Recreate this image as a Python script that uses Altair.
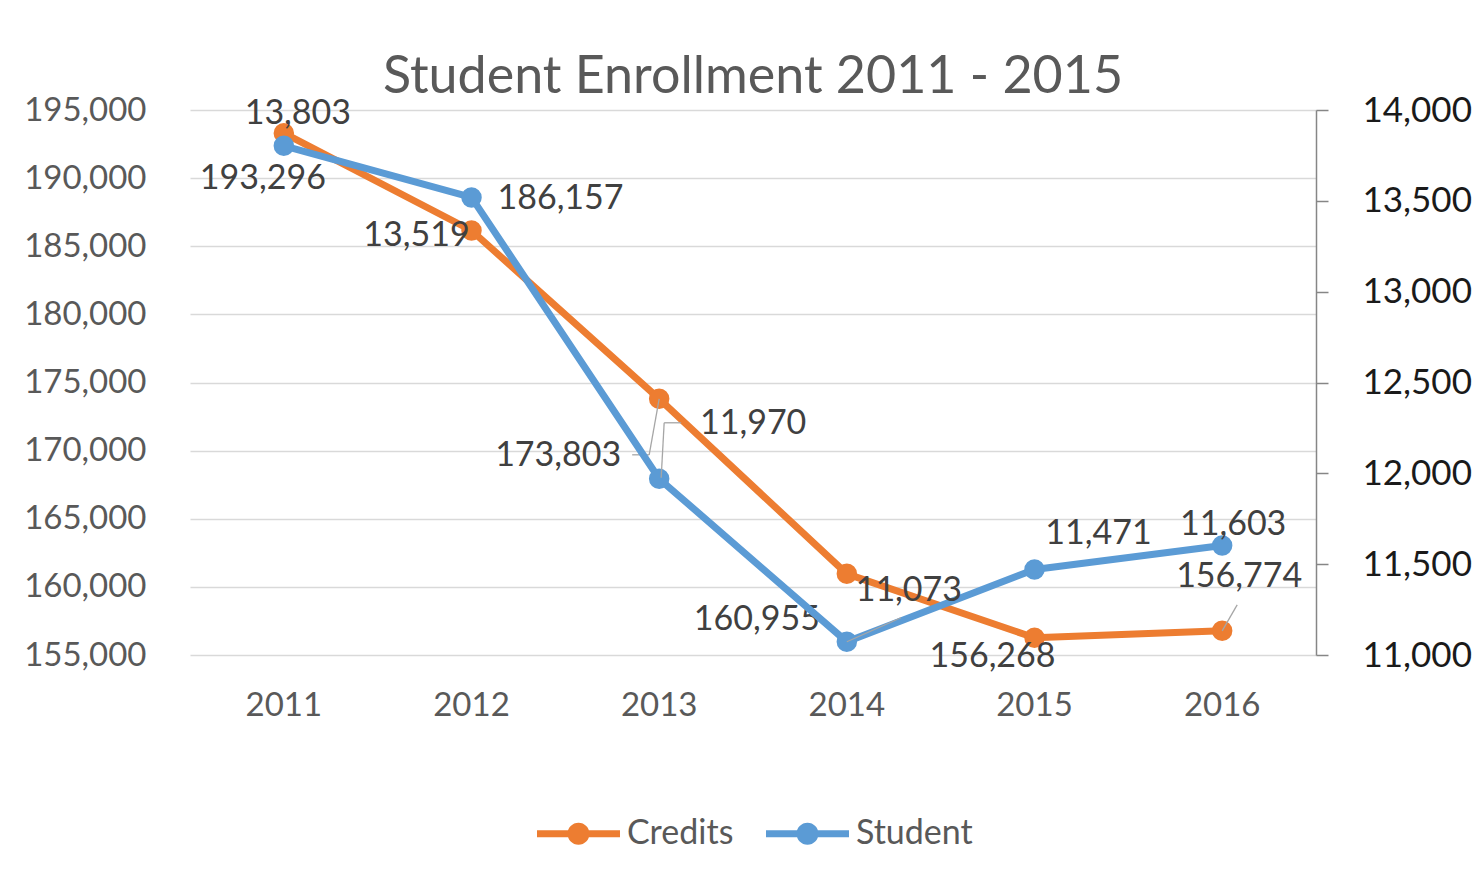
import altair as alt
import pandas as pd

# ---------------- data ----------------
years = ["2011", "2012", "2013", "2014", "2015", "2016"]
credits = [193296, 186157, 173803, 160955, 156268, 156774]
students = [13803, 13519, 11970, 11073, 11471, 11603]
series_names = ["Credits", "Student"]
left_ticks = [155000, 160000, 165000, 170000, 175000, 180000, 185000, 190000, 195000]
right_ticks = [11000, 11500, 12000, 12500, 13000, 13500, 14000]
title_text = "Student Enrollment 2011 - 2015"

df = pd.DataFrame({
    "year": years * 2,
    "series": [series_names[0]] * len(years) + [series_names[1]] * len(years),
    "value": credits + students,
})

# ---------------- style ----------------
ORANGE = "#ED7D31"
BLUE = "#5B9BD5"
FONT = "Lato"
LABEL_COLOR = "#404040"
AXIS_COLOR = "#595959"
LEADER_COLOR = "#a6a6a6"

# per-label pixel offsets (dx, dy)
credit_offsets = [(-21, 46), (89, -31), (-101, 57), (-90, 46), (-42, 19), (17, -54)]
student_offsets = [(14, -32), (-55, 39), (94, -55), (62, -51), (64, -35), (11, -20)]
# leader lines (xOffset, yOffset, x2Offset, y2Offset) per year
credit_leaders = {"2013": [(-27, 56, -10, 56), (-10, 56, 0, 0)], "2016": [(15, -26, 0, 0)]}
student_leaders = {"2013": [(22, -56, 5, -56), (5, -56, 2, -1)], "2014": [(54, -24, 0, 0)]}

LEGEND_PATH = ("M-1,-0.084H1V0.084H-1Z "
               "M0.265,0A0.265,0.265,0,1,1,-0.265,0A0.265,0.265,0,1,1,0.265,0Z")

X = alt.X("year:N", title=None, sort=years,
          axis=alt.Axis(labelAngle=0, labelFontSize=33, labelFont=FONT, labelColor=AXIS_COLOR,
                        labelPadding=34, domain=False, ticks=False, grid=False))

color_enc = alt.Color(
    "series:N",
    scale=alt.Scale(domain=series_names, range=[ORANGE, BLUE]),
    legend=alt.Legend(orient="none", legendX=347, legendY=682, direction="horizontal",
                      title=None, symbolType=LEGEND_PATH, symbolSize=6889,
                      symbolStrokeWidth=0, symbolOpacity=1,
                      labelFontSize=34, labelFont=FONT, labelColor=AXIS_COLOR,
                      labelOffset=7, columnPadding=32),
)


def build_series(name, values_scale, axis, color, offsets, leaders):
    base = alt.Chart(df).transform_filter(alt.datum.series == name)
    y = alt.Y("value:Q", scale=values_scale, axis=axis, title=None)
    line = base.mark_line(color=color, strokeWidth=7, strokeCap="round",
                          strokeJoin="round").encode(x=X, y=y)
    pts = base.mark_point(filled=True, size=420, opacity=1).encode(x=X, y=y, color=color_enc)
    layers = [line, pts]
    for yr, segs in leaders.items():
        for (xo, yo, x2o, y2o) in segs:
            layers.append(
                base.transform_filter(alt.datum.year == yr)
                .mark_rule(color=LEADER_COLOR, strokeWidth=1.3,
                           xOffset=xo, yOffset=yo, x2Offset=x2o, y2Offset=y2o)
                .encode(x=X, y=y, x2=alt.X2("year:N"), y2=alt.Y2("value:Q"))
            )
    for yr, (dx, dy) in zip(years, offsets):
        layers.append(
            base.transform_filter(alt.datum.year == yr)
            .mark_text(dx=dx, dy=dy, fontSize=34, font=FONT, color=LABEL_COLOR)
            .encode(x=X, y=y, text=alt.Text("value:Q", format=","))
        )
    return alt.layer(*layers)


left_axis = alt.Axis(orient="left", values=left_ticks, labelExpr="format(datum.value, ',')",
                     labelFontSize=33, labelFont=FONT, labelColor=AXIS_COLOR, domain=False,
                     ticks=False, grid=True, gridColor="#d9d9d9", gridWidth=1.5, labelPadding=44)
right_axis = alt.Axis(orient="right", values=right_ticks, labelExpr="format(datum.value, ',')",
                      labelFontSize=35, labelFont=FONT, labelColor="#1a1a1a", domain=True,
                      domainColor="#868686", domainWidth=1.5, ticks=True, tickSize=12,
                      tickColor="#868686", tickWidth=1.5, labelPadding=34, grid=False)

credits_layer = build_series("Credits", alt.Scale(domain=[155000, 195000], nice=False, zero=False),
                             left_axis, ORANGE, credit_offsets, credit_leaders)
student_layer = build_series("Student", alt.Scale(domain=[11000, 14000], nice=False, zero=False),
                             right_axis, BLUE, student_offsets, student_leaders)

chart = (
    alt.layer(credits_layer, student_layer)
    .resolve_scale(y="independent")
    .properties(
        width=1126, height=545,
        autosize=alt.AutoSizeParams(type="none"),
        padding={"left": 182, "top": 102, "right": 160, "bottom": 228},
        title=alt.TitleParams(title_text, fontSize=52, font=FONT, color=AXIS_COLOR,
                              fontWeight="normal", anchor="middle", frame="group",
                              baseline="alphabetic", offset=17, dy=69),
        background="white",
    )
    .configure_view(stroke=None)
)

chart.save("out.html", embed_options={"renderer": "svg", "actions": False})
